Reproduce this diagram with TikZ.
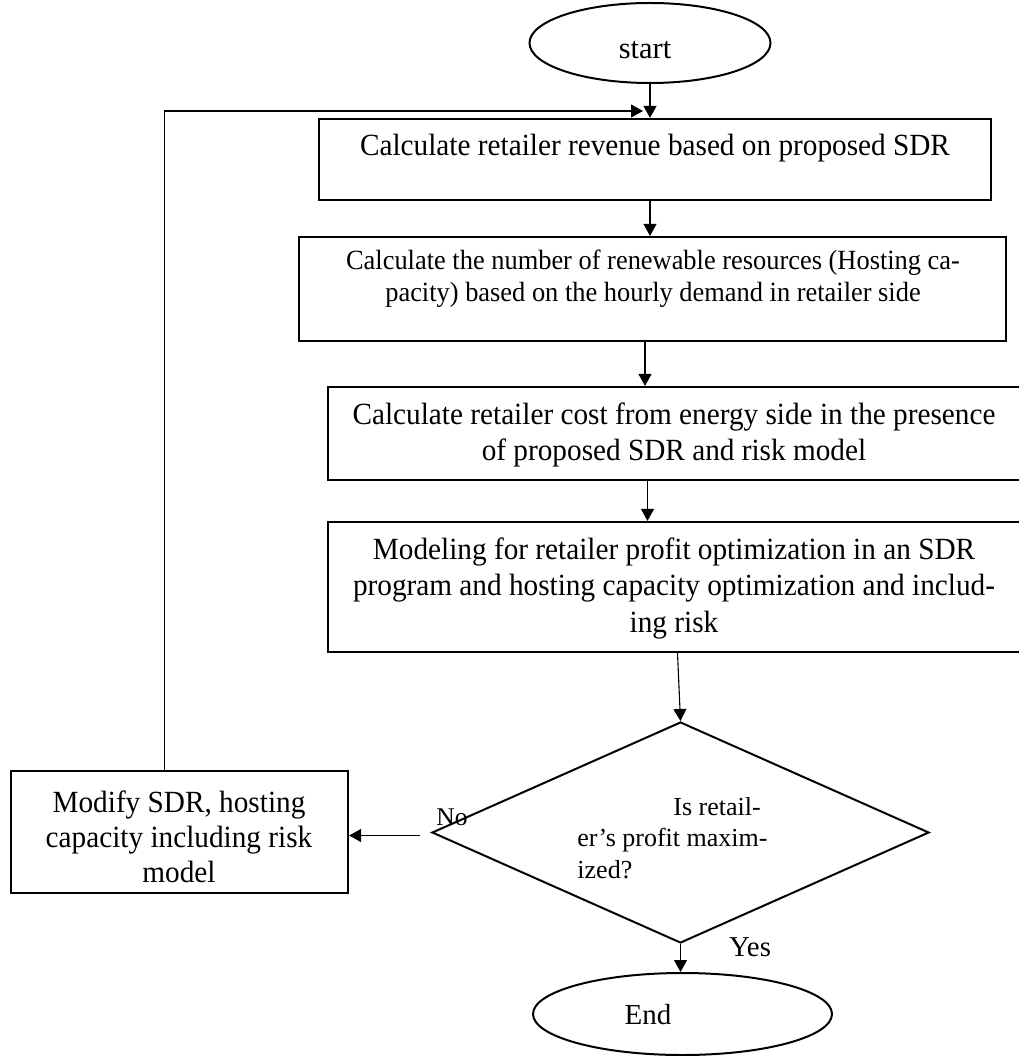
\documentclass[tikz,border=0pt]{standalone}
\usepackage{fontspec}
\setmainfont{Liberation Serif}
\newfontfamily\boxfont{Liberation Serif}[FakeStretch=0.95]
\usetikzlibrary{shapes.geometric,arrows.meta}
\begin{document}
\begin{tikzpicture}[x=1pt,y=-1pt,
  box/.style={draw, line width=2.2pt, inner sep=0pt, rectangle},
  oval/.style={draw, line width=2pt, ellipse, inner sep=0pt},
  dia/.style={draw, line width=2pt, diamond, inner sep=0pt},
  txt/.style={inner sep=0pt, align=center, font=\boxfont\fontsize{30.8}{36.5}\selectfont},
  arr/.style={line width=1.1pt, -{Triangle[length=12pt,width=13pt]}},
]
\fill[white] (0,0) rectangle (1018,1056);
\useasboundingbox (0,0) rectangle (1018,1056);

% shapes
\node[oval, minimum width=241pt, minimum height=80pt] (start) at (650,43) {};
\node[txt, font=\fontsize{30.5}{36}\selectfont] (tstart) at (645,50) {start};

\node[box, minimum width=672pt, minimum height=81pt] (b1) at (655,159.5) {};
\node[txt] (t1) at (655,148) {Calculate retailer revenue based on proposed SDR};

\node[box, minimum width=707pt, minimum height=104pt] (b2) at (652.5,289) {};
\node[txt, font=\boxfont\fontsize{27.8}{32}\selectfont] (t2) at (653,279) {Calculate the number of renewable resources (Hosting ca-\\pacity) based on the hourly demand in retailer side};

\node[box, minimum width=693pt, minimum height=93pt] (b3) at (674.5,433.5) {};
\node[txt] (t3) at (674,435) {Calculate retailer cost from energy side in the presence\\of proposed SDR and risk model};

\node[box, minimum width=693pt, minimum height=130pt] (b4) at (674.5,587) {};
\node[txt] (t4) at (674,588) {Modeling for retailer profit optimization in an SDR\\program and hosting capacity optimization and includ-\\ing risk};

\node[dia, minimum width=497pt, minimum height=221pt, aspect=2.25] (d) at (680.5,832.5) {};
\node[txt, align=left, font=\fontsize{26}{31.5}\selectfont] (td) at (672.5,838) {\hspace*{96pt}Is retail-\\er’s profit maxim-\\ized?};

\node[box, minimum width=337pt, minimum height=122pt] (mod) at (179.5,832) {};
\node[txt, font=\boxfont\fontsize{30.8}{35}\selectfont] (tm) at (179,837) {Modify SDR, hosting\\capacity including risk\\model};

\node[oval, minimum width=299pt, minimum height=82pt] (endn) at (682.5,1014) {};
\node[txt, font=\fontsize{29}{35}\selectfont] (tend) at (648,1015) {End};

% connectors
\coordinate (fb) at (643,111);
\draw[arr] ([xshift=-15pt]mod.north) |- (fb);
\draw[arr] (start.south) -- (start.south |- b1.north);
\draw[arr] ([xshift=-5pt]b1.south) -- ([xshift=-5pt]b1.south |- b2.north);
\draw[arr] ([xshift=-7.5pt]b2.south) -- ([xshift=-7.5pt]b2.south |- b3.north);
\draw[arr] ([xshift=-27pt]b3.south) -- ([xshift=-27pt]b3.south |- b4.north);
\draw[arr] ([xshift=3pt]b4.south) -- (d.north);
\coordinate (nos) at ([shift={(-11,3)}]d.west);
\draw[arr] (nos) -- (nos -| mod.east);
\draw[arr] (d.south) -- (d.south |- endn.north);

% labels
\node[txt, font=\fontsize{25.5}{30}\selectfont] (lno) at (452,817) {No};
\node[txt, font=\fontsize{28.8}{34}\selectfont] (lyes) at (750,947) {Yes};
\end{tikzpicture}
\end{document}
